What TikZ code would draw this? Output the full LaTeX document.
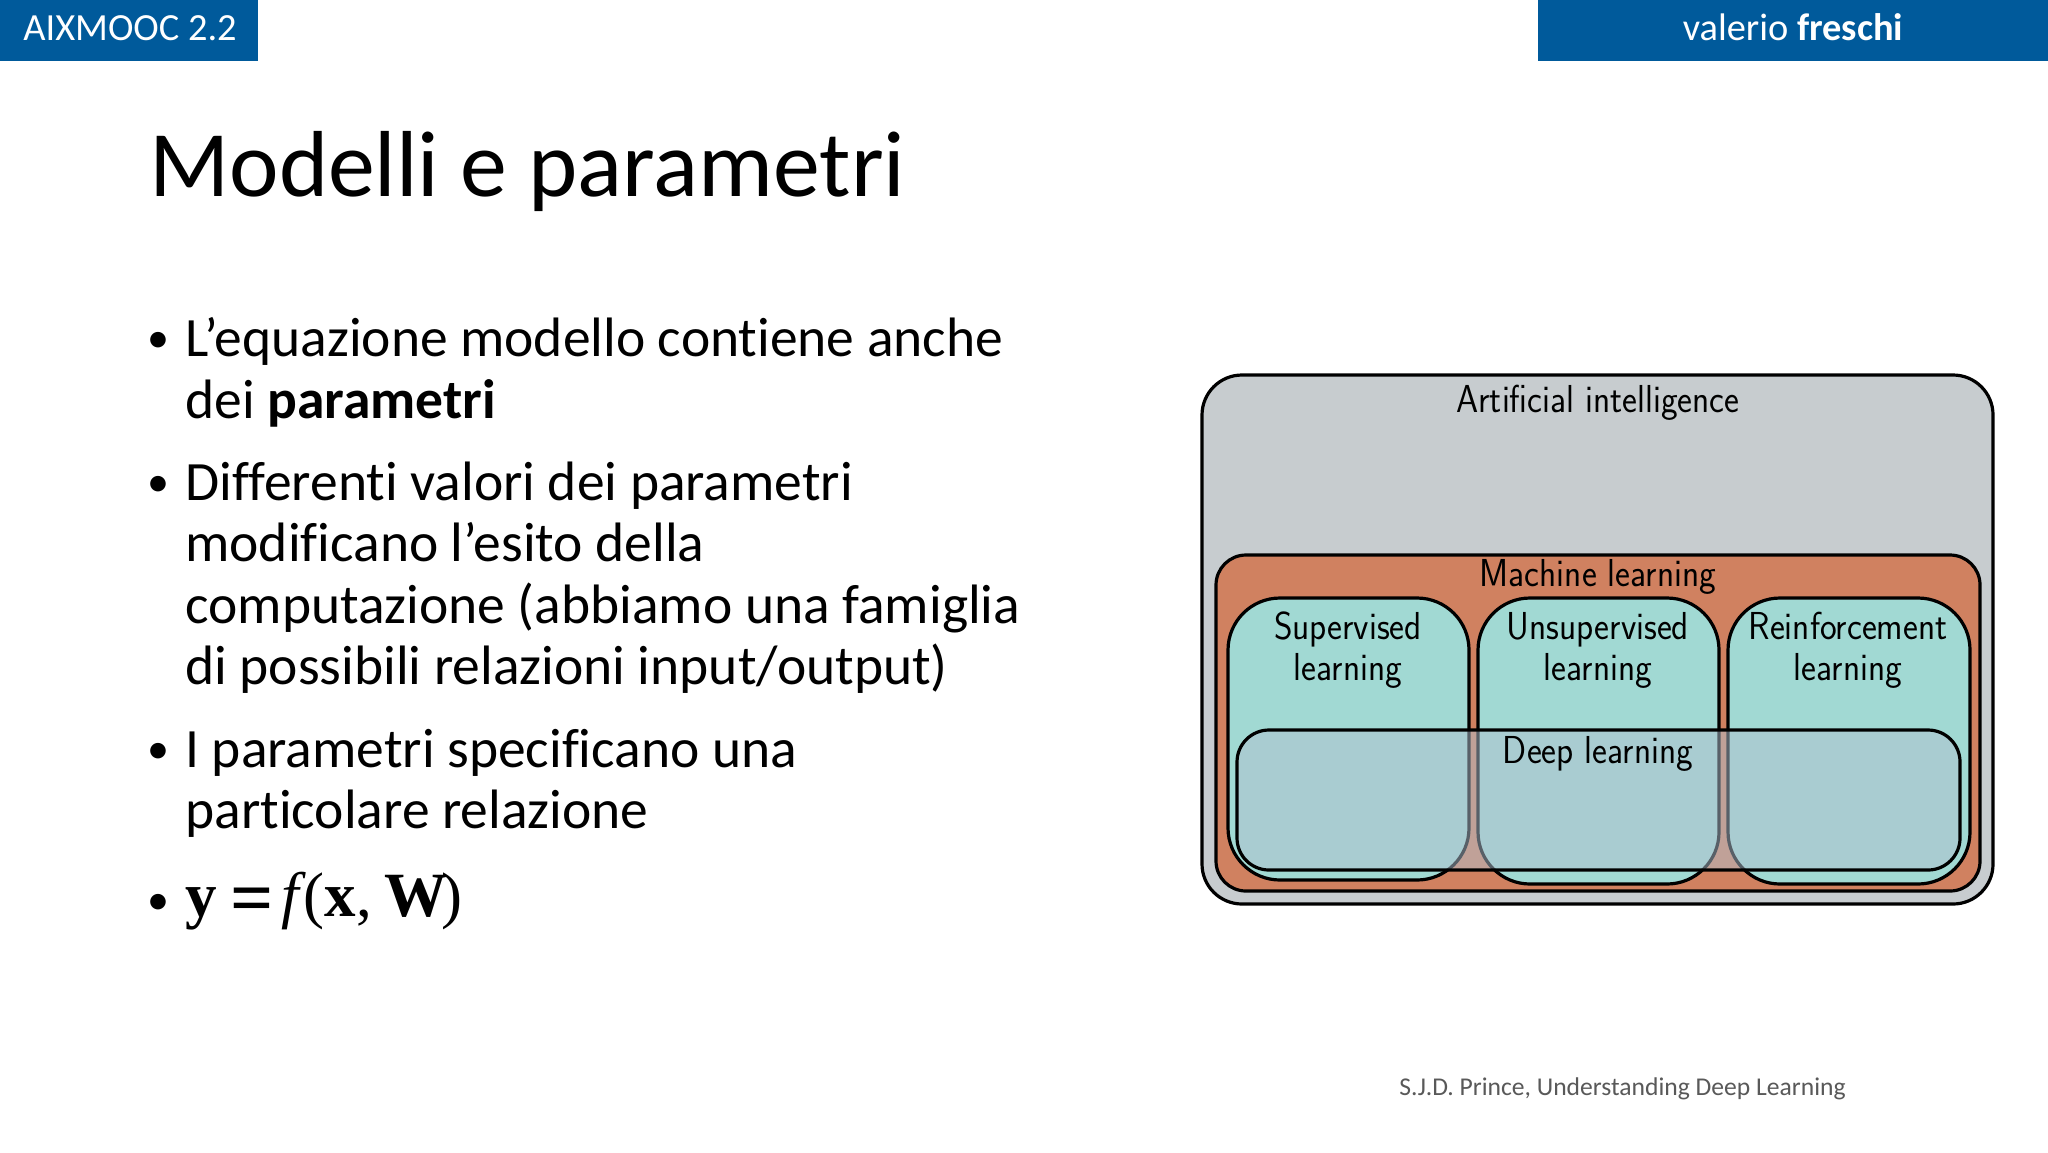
\documentclass[tikz,border=0pt]{standalone}
\usepackage{fontspec}
\setmainfont{Carlito}[RawFeature={-liga}]
\newfontfamily\eqfont{Liberation Serif}
\newfontfamily\diafont[FakeStretch=0.91]{Latin Modern Sans}
\definecolor{hdr}{HTML}{005A9B}
\definecolor{aigrey}{HTML}{C7CCCF}
\definecolor{mlorange}{HTML}{D08160}
\definecolor{teal1}{HTML}{A1D9D3}
\definecolor{dlfill}{HTML}{B1C1D1}
\definecolor{foot}{HTML}{595959}
\newcommand{\fs}[1]{\fontsize{#1}{#1}\selectfont}
\tikzset{
  x=0.5pt,y=-0.5pt,
  hdrbox/.style={fill=hdr,draw=none},
  hdrtext/.style={text=white,inner sep=0pt,font=\fs{19.2}},
  titletext/.style={inner sep=0pt,anchor=base west,font=\fs{46.9}},
  bodytext/.style={inner sep=0pt,anchor=base west,font=\fs{27.75}},
  bullettext/.style={inner sep=0pt,anchor=base,font=\fs{22}},
  setbox/.style={draw=black,line width=1.6pt},
  dialabel/.style={inner sep=0pt,anchor=base,font=\diafont\fs{19.5},align=center},
}
\begin{document}
\begin{tikzpicture}
\useasboundingbox (0,0) rectangle (2048,1152);
\fill[white] (0,0) rectangle (2048,1152);
% header
\path[hdrbox] (0,0) rectangle (258,61);
\path[hdrbox] (1538,0) rectangle (2048,61);
\node[hdrtext,anchor=base west] (hl) at (23,40) {AIXMOOC 2.2};
\node[hdrtext,anchor=base] (hr) at (1793,40) {valerio \textbf{freschi}};
% title
\node[titletext] (title) at (149,196) {Modelli e parametri};
% body
\node[bullettext] (b1) at (158,352) {•};
\node[bodytext] (l1) at (185,356) {L’equazione modello contiene anche};
\node[bodytext] (l2) at (185,418) {dei \textbf{parametri}};
\node[bullettext] (b2) at (158,496) {•};
\node[bodytext] (l3) at (185,500) {Differenti valori dei parametri};
\node[bodytext] (l4) at (185,561) {modificano l’esito della};
\node[bodytext] (l5) at (185,623) {computazione (abbiamo una famiglia};
\node[bodytext] (l6) at (185,684) {di possibili relazioni input/output)};
\node[bullettext] (b3) at (158,763) {•};
\node[bodytext] (l7) at (185,767) {I parametri specificano una};
\node[bodytext] (l8) at (185,828) {particolare relazione};
\node[bullettext] (b4) at (158,914) {•};
\node[inner sep=0pt,anchor=base west,font=\eqfont\fs{31.5}] (eq) at (185,916)
  {\textbf{y}\hspace{7pt}\raisebox{-3.5pt}{\bfseries\fs{38}=}\hspace{3.5pt}\textit{f}\kern-1pt(\textbf{x},\hspace{6pt}\textbf{W}\kern-3pt)};
% diagram
\draw[setbox,fill=aigrey,rounded corners=20pt] (1202,375) rectangle (1993,904);
\draw[setbox,fill=mlorange,rounded corners=15pt] (1216,555) rectangle (1980,891);
\draw[setbox,fill=teal1,rounded corners=26pt] (1228,598) rectangle (1469,880);
\draw[setbox,fill=teal1,rounded corners=26pt] (1478,598) rectangle (1719,884);
\draw[setbox,fill=teal1,rounded corners=26pt] (1728,598) rectangle (1970,884);
\draw[setbox,fill=dlfill,fill opacity=0.5,rounded corners=16pt] (1237,730) rectangle (1960,870);
\node[dialabel] (ai) at (1598,412) {Artificial intelligence};
\node[dialabel] (ml) at (1598,586) {Machine learning};
\node[dialabel] (sup) at (1348,639) {Supervised};
\node[dialabel] (sup2) at (1348,680) {learning};
\node[dialabel] (uns) at (1598,639) {Unsupervised};
\node[dialabel] (uns2) at (1598,680) {learning};
\node[dialabel] (rei) at (1848,639) {Reinforcement};
\node[dialabel] (rei2) at (1848,680) {learning};
\node[dialabel] (dl) at (1598,763) {Deep learning};
% footer
\node[inner sep=0pt,anchor=base west,text=foot,font=\fs{12.8}] (src) at (1399,1095) {S.J.D. Prince, Understanding Deep Learning};
\end{tikzpicture}
\end{document}
